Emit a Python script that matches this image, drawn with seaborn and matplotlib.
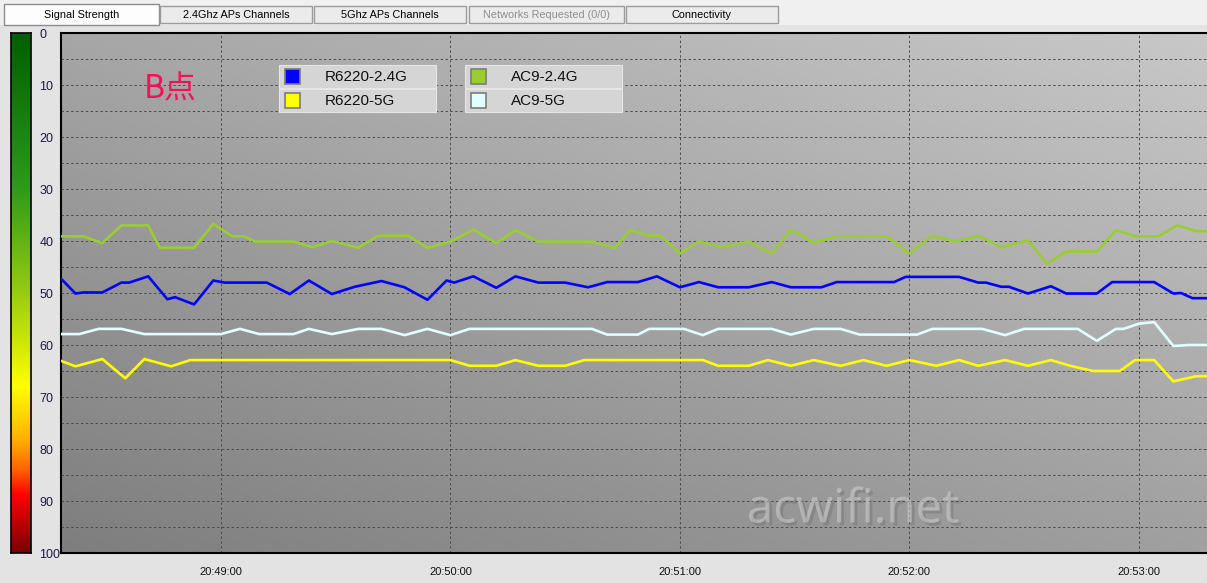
import numpy as np
import matplotlib
matplotlib.use("Agg")
import matplotlib.pyplot as plt
import seaborn as sns
from matplotlib.colors import LinearSegmentedColormap
from matplotlib.patches import Rectangle
from matplotlib.ticker import FuncFormatter, MultipleLocator
import matplotlib.patheffects as pe

# time axis: seconds after 20:48:00
BASE_H, BASE_M = 20, 48
view_start, view_end = 18.2, 317.8

# signal values (0 = strongest at top, 100 = weakest at bottom)
r6220_24_t = [18, 22, 24, 29, 34, 36, 41, 46, 48, 53, 58, 61, 72, 78, 83, 89, 95, 102, 108, 114,
              119, 121, 126, 132, 137, 143, 150, 156, 161, 169, 174, 180, 185, 190, 198, 204, 209,
              217, 221, 236, 239, 253, 258, 260, 264, 266, 271, 277, 281, 289, 293, 304, 309, 311,
              314, 318]
r6220_24_v = [47.1, 50.1, 49.9, 49.9, 48.0, 48.0, 46.8, 51.2, 50.8, 52.2, 47.6, 48.0, 48.0, 50.2,
              47.6, 50.2, 48.8, 47.7, 48.9, 51.3, 47.6, 48.0, 46.8, 49.0, 46.8, 48.0, 48.0, 48.9,
              47.9, 47.9, 46.8, 48.9, 47.9, 48.9, 48.9, 47.9, 48.9, 48.9, 47.9, 47.9, 46.9, 46.9,
              48.0, 48.0, 48.8, 48.8, 50.1, 48.7, 50.1, 50.1, 47.9, 47.9, 50.1, 50.0, 51.0, 51.0]

r6220_5_t = [18, 22, 29, 35, 40, 47, 52, 120, 125, 132, 137, 143, 150, 155, 186, 190, 198, 203,
             209, 215, 222, 228, 234, 240, 247, 253, 258, 265, 271, 277, 282, 288, 295, 299, 304,
             309, 315, 318]
r6220_5_v = [63.0, 64.1, 62.7, 66.4, 62.7, 64.1, 62.9, 62.9, 64.0, 64.0, 62.9, 64.0, 64.0, 62.9,
             62.9, 64.0, 64.0, 62.9, 64.0, 62.9, 64.0, 62.9, 64.0, 62.9, 64.0, 62.9, 64.0, 62.9,
             64.0, 62.9, 64.0, 65.0, 65.0, 62.9, 62.9, 67.0, 66.0, 66.0]

ac9_24_t = [18, 24, 29, 34, 41, 44, 53, 58, 63, 66, 69, 79, 84, 89, 96, 101, 109, 114, 120, 126,
            132, 137, 143, 157, 163, 167, 172, 175, 180, 185, 191, 198, 204, 209, 215, 221, 234,
            240, 246, 252, 258, 264, 271, 276, 281, 289, 294, 299, 305, 310, 315, 318]
ac9_24_v = [39.1, 39.1, 40.4, 37.0, 37.0, 41.3, 41.3, 36.7, 39.1, 39.1, 40.1, 40.1, 41.2, 40.0,
            41.3, 39.0, 39.0, 41.3, 40.1, 37.8, 40.4, 37.9, 40.1, 40.1, 41.3, 37.9, 39.0, 39.0,
            42.4, 40.1, 41.2, 40.1, 42.4, 37.8, 40.3, 39.1, 39.1, 42.4, 39.0, 40.1, 39.0, 41.2,
            39.9, 44.4, 42.0, 42.0, 37.9, 39.1, 39.1, 37.0, 38.1, 38.1]

ac9_5_t = [18, 23, 28, 34, 40, 60, 65, 70, 79, 83, 89, 96, 102, 108, 114, 120, 125, 157, 161, 169,
           172, 181, 186, 190, 204, 209, 215, 222, 227, 242, 246, 259, 265, 270, 284, 289, 294,
           296, 300, 304, 309, 313, 318]
ac9_5_v = [57.9, 57.9, 56.9, 56.9, 57.9, 57.9, 56.9, 57.9, 57.9, 56.9, 57.9, 56.9, 56.9, 58.1,
           56.9, 58.1, 56.9, 56.9, 58.0, 58.0, 56.9, 56.9, 58.1, 56.9, 56.9, 58.0, 56.9, 56.9,
           58.0, 58.0, 56.9, 56.9, 58.1, 56.9, 56.9, 59.2, 56.9, 56.9, 55.9, 55.6, 60.2, 60.0, 60.0]

legend_cols = [["R6220-2.4G", "R6220-5G"], ["AC9-2.4G", "AC9-5G"]]
tab_names = ["Signal Strength", "2.4Ghz APs Channels", "5Ghz APs Channels",
             "Networks Requested (0/0)", "Connectivity"]
minute_ticks = [60, 120, 180, 240, 300]

series = {
    "R6220-2.4G": (r6220_24_t, r6220_24_v, "#0000ff"),
    "R6220-5G": (r6220_5_t, r6220_5_v, "#ffff00"),
    "AC9-2.4G": (ac9_24_t, ac9_24_v, "#9acd32"),
    "AC9-5G": (ac9_5_t, ac9_5_v, "#e0ffff"),
}

sns.set_style("white")
plt.rcParams["font.family"] = ["Liberation Sans", "DejaVu Sans"]

W, H = 1207, 583
fig = plt.figure(figsize=(W / 100, H / 100), dpi=100, facecolor="#e3e3e3")


def px_box(x0, y0, x1, y1):
    return [x0 / W, 1 - y1 / H, (x1 - x0) / W, (y1 - y0) / H]


# main chart
ax = fig.add_axes(px_box(61, 33, 1207, 553))
xs = np.linspace(0, 1, 200)
ys = np.linspace(0, 1, 120)
gx, gy = np.meshgrid(xs, ys)
shade = (166 + 34 * gx - 40 * gy) / 255
ax.imshow(np.dstack([shade, shade, shade]), extent=(0, 1, 0, 1), transform=ax.transAxes,
          aspect="auto", origin="upper", zorder=0)

for name, (t, v, col) in series.items():
    sns.lineplot(x=t, y=v, ax=ax, color=col, lw=1.9, sort=False, estimator=None,
                 zorder=3, solid_joinstyle="round", solid_capstyle="round")

ax.set_xlim(view_start, view_end)
ax.set_ylim(100, 0)
ax.yaxis.set_major_locator(MultipleLocator(5))
ax.set_xticks(minute_ticks)
ax.xaxis.set_major_formatter(FuncFormatter(
    lambda s, _: f"{BASE_H + (BASE_M * 60 + int(s)) // 3600:02d}:"
                 f"{(BASE_M + int(s) // 60) % 60:02d}:{int(s) % 60:02d}"))
ax.tick_params(axis="x", length=0, pad=10, labelsize=8, labelcolor="#111111")
ax.tick_params(axis="y", length=0, labelleft=False)
ax.grid(True, color="#4c4c4c", lw=0.7, ls=(0, (2.5, 2.5)), zorder=1)
ax.set_axisbelow(True)
for side in ["left", "top", "bottom"]:
    ax.spines[side].set_color("black")
    ax.spines[side].set_linewidth(1.5)
ax.spines["right"].set_visible(False)

# colour scale on the left
cmap = LinearSegmentedColormap.from_list("sig", [
    (0.0, "#005f00"), (0.3, "#2f9a1c"), (0.5, "#98cc10"), (0.68, "#ffff00"),
    (0.78, "#ffb400"), (0.84, "#ff6400"), (0.89, "#ff0000"), (1.0, "#7a0000")])
cax = fig.add_axes(px_box(11, 33, 31, 553))
cax.imshow(np.linspace(0, 1, 256).reshape(-1, 1), cmap=cmap, aspect="auto",
           extent=(0, 1, 100, 0))
cax.set_ylim(100, 0)
cax.set_xticks([])
cax.set_yticks(range(0, 101, 10))
cax.yaxis.tick_right()
cax.tick_params(axis="y", length=0, pad=6, labelsize=9, labelcolor="#1c1c3c")
for sp in cax.spines.values():
    sp.set_color("black")
    sp.set_linewidth(1.2)

# overlay in pixel coordinates for the window decorations
ov = fig.add_axes([0, 0, 1, 1], zorder=10)
ov.set_xlim(0, W)
ov.set_ylim(H, 0)
ov.axis("off")
ov.patch.set_visible(False)

ov.add_patch(Rectangle((0, 0), W, 25, facecolor="#f0f0f0", edgecolor="none"))
tab_x = [4, 160, 314, 469, 626]
tab_w = [155, 152, 152, 155, 152]
for i, name in enumerate(tab_names):
    if i == 0:
        ov.add_patch(Rectangle((tab_x[i], 4), tab_w[i], 21, facecolor="#fdfdfd",
                               edgecolor="#8c8c8c", lw=1))
    else:
        ov.add_patch(Rectangle((tab_x[i], 6), tab_w[i], 17, facecolor="#ebebeb",
                               edgecolor="#9c9c9c", lw=1))
    ov.text(tab_x[i] + tab_w[i] / 2, 14.5, name, ha="center", va="center", fontsize=7.8,
            color="#8f8f8f" if "Requested" in name else "black")

# legend boxes
for c, names in enumerate(legend_cols):
    bx = [279, 465][c]
    for r, name in enumerate(names):
        by = 65 + r * 24
        ov.add_patch(Rectangle((bx, by), 157, 23, facecolor="#d5d5d5", edgecolor="#e6e6e6",
                               lw=0.8))
        ov.add_patch(Rectangle((bx + 6, by + 3.5), 15, 15, facecolor=series[name][2],
                               edgecolor="#7c7c7c", lw=1.2))
        ov.text(bx + 46, by + 12, name, ha="left", va="center", fontsize=11, color="#111111")

ov.text(170, 90, "B点", ha="center", va="center", fontsize=23, color="#f2125a",
        family=["Noto Sans CJK SC", "DejaVu Sans"])

ov.text(853, 510, "acwifi.net", ha="center", va="center", fontsize=34, color="#cfcfcf",
        alpha=0.55, family=["Noto Sans", "DejaVu Sans"],
        path_effects=[pe.withSimplePatchShadow(offset=(2, -2), shadow_rgbFace="#555555",
                                               alpha=0.25)])

fig.savefig("out.png", dpi=100, facecolor=fig.get_facecolor())
